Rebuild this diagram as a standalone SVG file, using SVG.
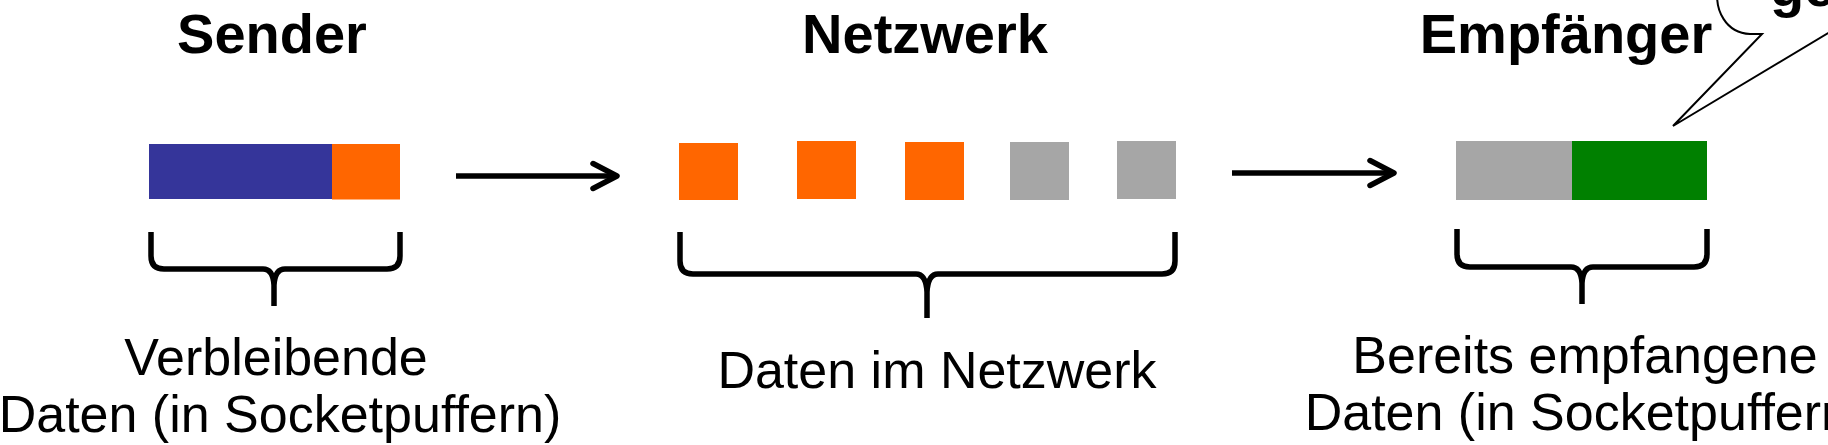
<svg xmlns="http://www.w3.org/2000/svg" width="1828" height="445" viewBox="0 0 1828 445">
<style>
.title{font-family:"Liberation Sans",Arial,sans-serif;font-weight:bold;font-size:56px;fill:#000;text-anchor:middle}
.lbl{font-family:"Liberation Sans",Arial,sans-serif;font-size:52px;fill:#000;text-anchor:middle}
.brace{fill:none;stroke:#000;stroke-width:5.5;stroke-linejoin:round}
.conn{fill:none;stroke:#000;stroke-width:5.5}
.blue{fill:#35359a}
.orange{fill:#ff6600}
.gray{fill:#a6a6a6}
.green{fill:#008000}
</style>
<defs>
<marker id="chev" viewBox="-30 -16 34 32" markerWidth="34" markerHeight="32" refX="0" refY="0" orient="auto" markerUnits="userSpaceOnUse">
<path d="M-24,-12.5 L0,0 L-24,12.5" fill="none" stroke="#000" stroke-width="5.5" stroke-linecap="round" stroke-linejoin="round"/>
</marker>
</defs>
<rect width="1828" height="445" fill="#fff"/>
<g id="sender">
<text class="title" x="272" y="53">Sender</text>
<rect class="blue" x="149" y="144" width="183" height="55"/>
<rect class="orange" x="332" y="144" width="68" height="55.5"/>
<path class="brace" d="M151,232 L151,256 Q151,269 164,269 L263,269 Q273,269 274,285 L274,306 M400,232 L400,256 Q400,269 387,269 L285,269 Q275,269 274,285"/>
<text class="lbl" x="276" y="375">Verbleibende</text>
<text class="lbl" x="280" y="432">Daten (in Socketpuffern)</text>
</g>
<g id="network">
<text class="title" x="925" y="53">Netzwerk</text>
<rect class="orange" x="679" y="143" width="59" height="57"/>
<rect class="orange" x="797" y="141" width="59" height="58"/>
<rect class="orange" x="905" y="142" width="59" height="58"/>
<rect class="gray" x="1010" y="142" width="59" height="58"/>
<rect class="gray" x="1117" y="141" width="59" height="58"/>
<path class="brace" d="M680,232 L680,261 Q680,274 693,274 L916,274 Q926,274 927,292 L927,318 M1175,232 L1175,261 Q1175,274 1162,274 L938,274 Q928,274 927,292"/>
<text class="lbl" x="937" y="388">Daten im Netzwerk</text>
</g>
<g id="receiver">
<text class="title" x="1566" y="53">Empfänger</text>
<rect class="gray" x="1456" y="141" width="116" height="59"/>
<rect class="green" x="1572" y="141" width="135" height="59"/>
<path class="brace" d="M1457,229 L1457,254 Q1457,267 1470,267 L1571,267 Q1581,267 1582,283 L1582,304 M1707,229 L1707,254 Q1707,267 1694,267 L1593,267 Q1583,267 1582,283"/>
<text class="lbl" x="1585" y="373">Bereits empfangene</text>
<text class="lbl" x="1586" y="430">Daten (in Socketpuffern)</text>
</g>
<g id="callout">
<path d="M1718,-12 C1714,10 1726,33 1750,34 L1762,34 L1673,126 L1845,23" fill="#fff" stroke="#000" stroke-width="2" stroke-linejoin="miter"/>
<text x="1770" y="6" style="font-family:'Liberation Sans',Arial,sans-serif;font-weight:bold;font-size:56px">ge</text>
</g>
<g id="connectors">
<line class="conn" x1="456" y1="176" x2="617" y2="176" marker-end="url(#chev)"/>
<line class="conn" x1="1232" y1="173" x2="1394" y2="173" marker-end="url(#chev)"/>
</g>
</svg>
